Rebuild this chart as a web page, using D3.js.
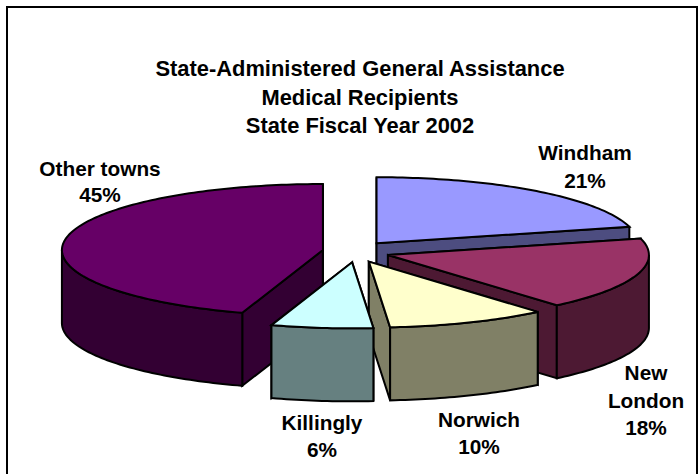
<!DOCTYPE html>
<html>
<head>
<meta charset="utf-8">
<script src="https://cdn.jsdelivr.net/npm/d3@7/dist/d3.min.js"></script>
<style>
html,body{margin:0;padding:0;background:#fff;overflow:hidden}
svg{display:block}
text{font-family:"Liberation Sans",Arial,sans-serif;font-weight:700;fill:#000;text-anchor:middle}
</style>
</head>
<body>
<svg id="chart" width="698" height="474"></svg>
<script>
const categories = ["Windham", "New London", "Norwich", "Killingly", "Other towns"];
const values = [21, 17.8, 9.9, 6.3, 45];
const topColors = ["#9999FF", "#993366", "#FFFFCC", "#CCFFFF", "#660066"];
const sideColors = ["#4D4D80", "#4D1933", "#808066", "#668080", "#330033"];
const titleLines = ["State-Administered General Assistance", "Medical Recipients", "State Fiscal Year 2002"];
const labelLines = [["Windham"], ["New", "London"], ["Norwich"], ["Killingly"], ["Other towns"]];

const W = 698, H = 474;
const svg = d3.select("#chart");
const cx = 356, cy = 251.7, rx = 261, ry = 66, depth = 73;
const explodeX = 33.5, explodeY = 10.7;
const total = d3.sum(values);
const pct = d3.format(".0%");

svg.append("path")
  .attr("d", `M7,${H + 5}V7H697V${H + 5}`)
  .attr("fill", "#fff").attr("stroke", "#000").attr("stroke-width", 2);

const pie = d3.pie().sort(null).startAngle(0).endAngle(2 * Math.PI);
const slices = pie(values).map((d, i) => {
  const mid = (d.startAngle + d.endAngle) / 2;
  return { ...d, i, mid,
    ox: cx + explodeX * Math.sin(mid),
    oy: cy - explodeY * Math.cos(mid) };
});

const line = d3.line();
const rim = (s, a, dy = 0) => [s.ox + rx * Math.sin(a), s.oy - ry * Math.cos(a) + dy];
const sweep = (a0, a1) => {
  const n = Math.max(2, Math.ceil((a1 - a0) / 0.02));
  return d3.range(n + 1).map(k => a0 + (a1 - a0) * k / n);
};

const order = [4, 0, 1, 2, 3];
const g = svg.append("g");
const style = sel => sel.attr("stroke", "#000").attr("stroke-width", 2).attr("stroke-linejoin", "miter");

order.map(i => slices[i]).forEach(s => {
  const sg = g.append("g").attr("class", "slice");
  [s.startAngle, s.endAngle].forEach(a => {
    const c = [s.ox, s.oy], p = rim(s, a);
    sg.append("path")
      .attr("d", line([c, p, [p[0], p[1] + depth], [c[0], c[1] + depth]]) + "Z")
      .attr("fill", sideColors[s.i]).call(style);
  });
  const a0 = Math.max(s.startAngle, Math.PI / 2), a1 = Math.min(s.endAngle, 1.5 * Math.PI);
  if (a1 > a0) {
    const as = sweep(a0, a1);
    const pts = as.map(a => rim(s, a)).concat(as.slice().reverse().map(a => rim(s, a, depth)));
    sg.append("path").attr("d", line(pts) + "Z").attr("fill", sideColors[s.i]).call(style);
  }
  const topPts = [[s.ox, s.oy]].concat(sweep(s.startAngle, s.endAngle).map(a => rim(s, a)));
  sg.append("path").attr("d", line(topPts) + "Z").attr("fill", topColors[s.i]).call(style);
});

const titleSize = 21.9, labelSize = 20.8;
const titleY = [76, 105, 133];
svg.append("g").selectAll("text").data(titleLines).join("text")
  .attr("x", 360).attr("y", (d, i) => titleY[i]).attr("font-size", titleSize).text(d => d);

const labelPos = [[585, [160], 188], [646, [380, 408], 435], [479, [427], 454], [322, [430], 457], [100, [176], 202]];
slices.forEach(s => {
  const [x, ys, py] = labelPos[s.i];
  const t = svg.append("g");
  labelLines[s.i].forEach((l, k) => t.append("text").attr("x", x).attr("y", ys[k]).attr("font-size", labelSize).text(l));
  t.append("text").attr("x", x).attr("y", py).attr("font-size", labelSize).text(pct(s.data / total));
});
</script>
</body>
</html>
